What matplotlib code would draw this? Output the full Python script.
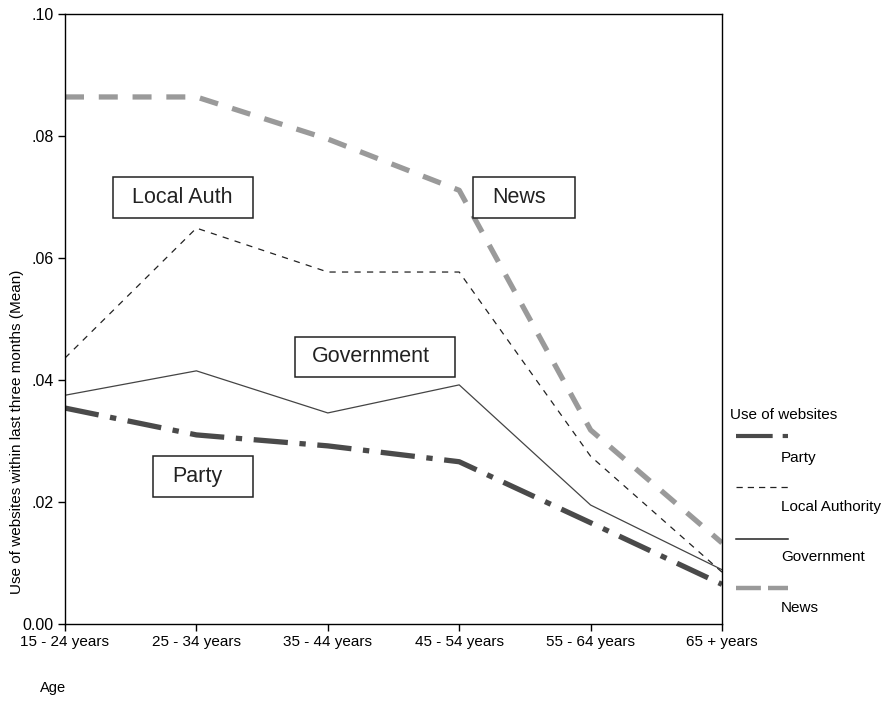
import matplotlib
matplotlib.use('Agg')
import matplotlib.pyplot as plt
from matplotlib.lines import Line2D
from matplotlib.patches import Rectangle
import numpy as np

plt.rcParams['font.family'] = ['Liberation Sans', 'DejaVu Sans']

# data
age_groups = ['15 - 24 years', '25 - 34 years', '35 - 44 years',
              '45 - 54 years', '55 - 64 years', '65 + years']
party = [0.0354, 0.0310, 0.0292, 0.0266, 0.0166, 0.0065]
local_authority = [0.0436, 0.0649, 0.0577, 0.0577, 0.0275, 0.0085]
government = [0.0375, 0.0415, 0.0346, 0.0392, 0.0195, 0.0089]
news = [0.0864, 0.0864, 0.0795, 0.0711, 0.0318, 0.0133]
y_ticks = [0.0, 0.02, 0.04, 0.06, 0.08, 0.10]
y_tick_labels = ['0.00', '.02', '.04', '.06', '.08', '.10']
legend_names = ['Party', 'Local Authority', 'Government', 'News']

W, H = 884, 713
fig = plt.figure(figsize=(W / 100, H / 100), dpi=100)
ax = fig.add_axes([65 / W, 89 / H, 657 / W, 610 / H])

x = np.arange(len(age_groups))

styles = {
	'Party': dict(color='#4a4a4a', linewidth=3.8, dashes=(6.5, 2.2, 1.2, 2.2), solid_capstyle='butt', dash_capstyle='butt'),
	'Local Authority': dict(color='#222222', linewidth=0.9, dashes=(5, 5)),
	'Government': dict(color='#444444', linewidth=0.9, linestyle='-'),
	'News': dict(color='#9a9a9a', linewidth=3.8, dashes=(3.6, 2.8), dash_capstyle='butt'),
}
# legend samples are drawn a little lighter than the plot lines
legend_styles = {
	'Party': dict(color='#4a4a4a', linewidth=3.0, dashes=(8.8, 2.4, 1.3, 3), dash_capstyle='butt'),
	'Local Authority': dict(color='#222222', linewidth=0.9, dashes=(5, 4)),
	'Government': dict(color='#222222', linewidth=1.1, linestyle='-'),
	'News': dict(color='#9a9a9a', linewidth=3.2, dashes=(5.6, 1.6), dash_capstyle='butt'),
}
series = {'Party': party, 'Local Authority': local_authority,
          'Government': government, 'News': news}

for name in ['Local Authority', 'Government', 'News', 'Party']:
	ax.plot(x, series[name], **styles[name])

ax.set_xlim(0, len(age_groups) - 1)
ax.set_ylim(0, 0.10)
ax.set_xticks(x)
ax.set_xticklabels(age_groups, fontsize=11)
ax.set_yticks(y_ticks)
ax.set_yticklabels(y_tick_labels, fontsize=11.5)
ax.tick_params(direction='out', length=5, width=1, pad=3)
for s in ax.spines.values():
	s.set_linewidth(1)

# annotation boxes (pixel positions converted to data space)
def px_to_data(px, py):
	return ((px - 65) / 657 * 5, (624 - py) / 610 * 0.10)

boxes = [
	('Local Auth', 113, 253, 177, 218, 132),
	('News', 473, 575, 177, 218, 492),
	('Government', 295, 455, 337, 377, 312),
	('Party', 153, 253, 456, 497, 172),
]
for label, x0, x1, y0, y1, tx in boxes:
	dx0, dy1 = px_to_data(x0, y1)
	dx1, dy0 = px_to_data(x1, y0)
	ax.add_patch(Rectangle((dx0, dy1), dx1 - dx0, dy0 - dy1, fill=True,
		facecolor='white', edgecolor='#222222', linewidth=1.1, zorder=5))
	tdx, tdy = px_to_data(tx, (y0 + y1) / 2)
	ax.text(tdx, tdy, label, fontsize=15.5, va='center', ha='left', color='#222222', zorder=6)

# axis titles
fig.text(17 / W, 1 - 432 / H, 'Use of websites within last three months (Mean)',
	rotation=90, va='center', ha='center', fontsize=11)
fig.text(40 / W, 1 - 688 / H, 'Age', va='center', ha='left', fontsize=10.5)

# legend drawn by hand to the right of the plot
fig.text(730 / W, 1 - 415 / H, 'Use of websites', fontsize=11, va='center', ha='left')
leg_y = [436, 487, 539, 588]
lab_y = [458, 507, 557, 608]
for name, ly, ty in zip(legend_names, leg_y, lab_y):
	fig.add_artist(Line2D([736 / W, 788 / W], [1 - ly / H, 1 - ly / H],
		transform=fig.transFigure, **legend_styles[name]))
	fig.text(781 / W, 1 - ty / H, name, fontsize=11, va='center', ha='left')

fig.savefig('out.png', dpi=100)
